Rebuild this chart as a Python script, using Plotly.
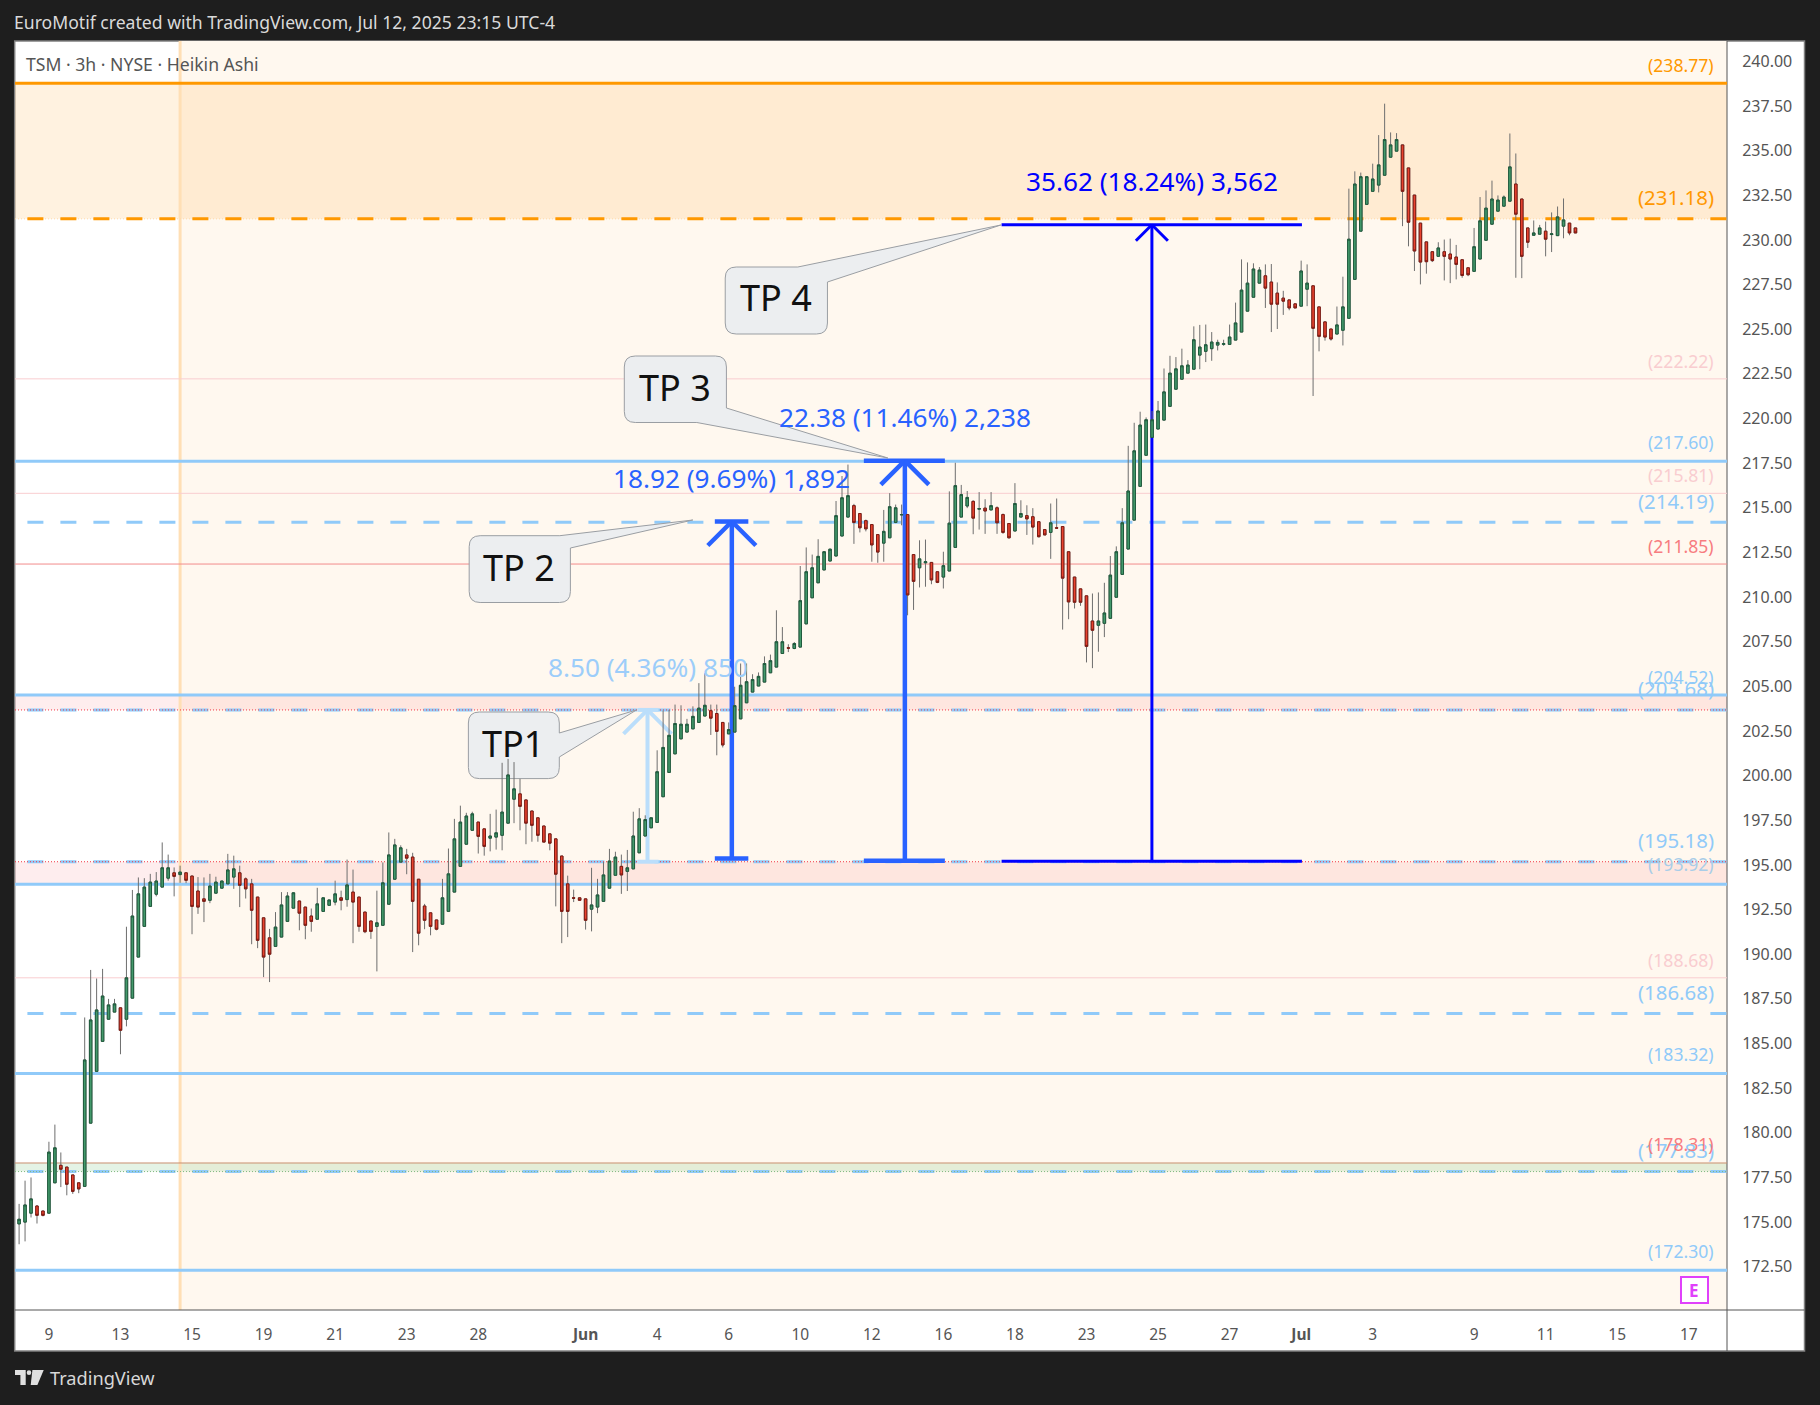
import plotly.graph_objects as go

opens = [174.90,175.00,175.50,175.90,175.62,175.50,177.20,178.18,178.08,177.64,
177.20,177.00,180.54,183.44,185.12,186.36,186.76,187.00,186.36,187.54,
189.84,191.56,192.68,193.36,193.76,194.26,194.56,194.46,194.56,194.38,
193.54,193.10,193.02,193.42,193.70,193.94,194.32,194.56,194.22,193.94,
193.20,192.04,190.92,190.44,190.96,191.84,192.58,192.98,192.64,192.14,
191.96,192.40,192.74,192.92,193.16,193.06,193.48,193.20,192.36,191.86,
191.56,191.62,192.80,194.20,195.16,195.56,195.44,194.20,192.70,192.32,
191.92,191.68,192.40,193.48,194.92,196.16,196.94,197.40,197.02,196.50,
196.56,196.66,197.34,198.68,198.98,198.64,198.02,197.64,197.18,196.74,
196.46,195.50,193.94,193.16,193.16,193.10,192.52,192.64,192.96,193.70,
194.42,194.92,194.64,194.78,195.68,196.62,197.08,197.38,198.82,200.18,
201.22,202.06,202.44,202.62,202.98,203.34,203.64,203.48,202.98,202.34,
202.44,203.18,204.08,204.68,205.02,205.24,205.76,206.08,206.84,207.16,
207.12,207.20,208.50,209.96,210.80,211.52,212.02,212.30,213.42,214.48,
215.12,214.68,214.28,214.06,213.50,213.02,213.32,214.18,214.60,214.62,
212.38,211.64,211.92,211.94,211.42,211.12,211.46,212.78,214.48,215.10,
215.36,214.92,214.98,214.88,215.00,214.62,214.12,213.70,214.48,214.56,
214.50,214.22,213.78,213.62,213.88,213.95,212.54,211.12,210.46,210.07,
208.66,208.42,208.53,208.81,209.99,211.27,212.69,214.31,216.20,217.94,
218.94,219.41,219.91,220.68,221.64,222.20,222.54,222.76,223.55,223.76,
223.91,224.11,224.15,224.15,224.39,224.84,226.01,226.79,227.58,227.99,
227.64,227.02,226.74,226.64,226.42,226.29,227.24,227.43,226.25,225.41,
225.01,224.73,224.94,225.61,227.79,230.49,231.99,232.72,233.07,233.62,
234.63,234.97,235.32,234.03,232.51,230.94,229.89,229.34,229.08,229.34,
229.21,229.04,228.89,228.44,228.24,228.93,229.98,230.88,231.61,231.89,
232.17,233.13,232.29,230.67,230.26,230.32,230.49,230.30,230.24,230.77,
230.94,230.67]

closes = [175.16,175.96,176.30,175.38,175.38,178.92,179.16,177.96,177.12,176.72,
176.86,184.08,186.32,186.88,187.66,187.16,187.22,185.74,188.68,192.14,
193.38,193.76,194.04,194.10,194.84,194.84,194.36,194.60,194.14,192.68,
192.64,192.96,193.82,194.04,194.10,194.72,194.78,193.86,193.66,192.46,
190.78,189.84,190.00,191.52,192.76,193.26,193.44,192.30,191.62,191.84,
192.82,193.16,193.04,193.38,193.02,193.88,192.92,191.56,191.26,191.28,
191.76,194.00,195.56,196.12,195.96,195.38,192.96,191.18,191.90,191.56,
191.40,193.16,194.50,196.46,197.40,197.74,197.86,196.60,196.04,196.62,
196.80,197.96,200.04,199.26,198.28,197.34,197.22,196.66,196.28,196.22,
194.48,192.40,192.40,193.14,193.02,191.90,192.76,193.32,194.44,195.22,
195.44,194.44,194.84,196.62,197.58,197.54,197.64,200.22,201.58,202.26,
202.92,202.88,202.88,203.32,203.78,203.94,203.22,202.48,201.72,202.58,
203.92,205.06,205.26,205.38,205.56,206.28,206.44,207.50,207.50,207.14,
207.40,209.80,211.42,211.64,212.28,212.54,212.68,214.56,215.56,215.68,
214.18,213.88,213.82,212.92,212.52,213.68,215.06,215.00,214.62,210.12,
210.88,212.14,211.98,210.96,210.82,211.76,214.14,216.24,215.74,215.58,
214.42,214.96,214.82,215.12,214.16,213.62,213.32,215.24,214.68,214.38,
213.92,213.38,213.48,214.16,213.86,211.06,209.73,209.71,209.71,207.24,
208.14,208.66,209.11,211.23,212.54,214.16,215.94,218.19,219.63,219.93,
219.93,220.42,221.49,222.54,222.78,222.95,222.99,224.41,224.00,224.13,
224.28,224.26,224.19,224.56,225.35,227.19,227.58,228.37,228.31,227.30,
226.40,226.40,226.57,226.19,226.19,228.26,227.58,225.05,224.60,224.56,
224.45,225.24,226.25,230.04,233.13,233.54,233.54,233.41,234.20,235.62,
235.32,235.62,232.72,230.99,229.38,228.76,228.78,228.84,229.55,229.08,
228.93,228.63,228.01,228.05,229.62,231.07,231.78,232.29,232.23,232.40,
234.09,231.44,229.08,229.87,230.39,230.67,230.04,230.34,231.29,231.12,
230.39,230.39]

highs = [176.02,177.32,177.50,175.95,175.62,179.50,180.46,178.90,178.08,177.64,
177.20,186.46,189.12,188.64,189.18,187.50,187.50,187.00,191.54,193.60,
194.30,194.26,194.50,194.60,196.26,195.58,194.86,194.96,194.56,194.38,
194.32,194.30,194.50,194.34,194.10,195.62,195.52,194.96,194.30,194.22,
193.20,192.04,191.42,192.36,193.48,193.48,193.48,192.98,192.64,192.56,
193.72,193.16,193.04,194.12,193.56,195.30,194.74,193.20,192.36,191.86,
193.56,195.14,196.82,196.46,196.10,195.90,195.68,194.20,192.82,192.32,
191.92,194.22,195.92,197.58,198.32,197.92,197.98,197.40,197.02,197.86,
198.10,200.72,200.94,200.76,199.82,198.64,198.02,197.64,197.18,196.74,
196.46,195.50,194.40,193.62,193.16,193.10,194.84,194.22,195.16,195.90,
195.74,195.58,195.84,197.98,198.18,197.78,197.64,201.42,203.64,203.68,
203.98,203.94,203.18,203.88,205.18,205.74,203.98,203.98,202.98,202.98,
204.98,206.28,206.28,205.68,205.78,206.68,206.78,209.26,208.32,207.36,
207.48,211.74,212.78,212.38,213.24,212.58,212.72,215.38,216.78,217.42,
215.22,214.68,214.34,214.06,213.50,214.88,215.82,215.18,215.18,214.64,
212.38,213.18,213.22,211.94,211.42,212.54,215.92,217.52,216.28,215.94,
215.42,215.88,215.48,215.88,215.08,214.68,214.12,216.38,215.42,215.14,
214.98,214.22,213.78,215.24,215.52,213.95,212.54,211.12,210.46,210.07,
210.20,210.26,210.80,212.30,212.84,214.98,218.47,219.76,220.38,220.06,
220.42,220.98,222.80,223.51,223.44,223.91,223.27,225.16,225.24,225.26,
224.84,224.41,224.41,225.26,226.49,228.91,228.74,228.69,228.48,228.63,
228.65,227.62,227.15,226.64,226.42,228.84,228.63,227.43,226.25,225.41,
225.01,226.27,227.94,232.87,233.84,233.77,233.54,234.27,235.87,237.63,
236.02,235.98,235.32,234.03,232.51,230.94,229.89,229.34,229.87,230.02,
230.07,229.72,228.89,228.44,230.67,232.40,232.77,233.32,232.49,232.49,
235.96,234.84,232.29,230.67,231.09,230.84,231.03,231.54,231.87,232.32,
230.94,230.67]

lows = [173.76,173.92,175.26,174.92,175.32,175.50,177.20,176.96,176.50,176.58,
176.62,177.00,180.54,183.44,185.12,186.36,186.76,184.40,185.96,187.54,
189.84,191.56,192.68,193.24,193.76,194.12,193.24,194.00,193.98,191.12,
192.26,191.80,192.86,193.42,193.70,193.94,193.66,192.64,193.12,190.56,
190.34,188.72,188.44,190.44,190.96,191.84,192.58,191.34,190.84,191.26,
191.96,192.40,192.74,192.74,192.46,192.66,190.62,191.26,191.18,190.86,
189.04,191.62,192.80,194.20,195.16,194.48,190.12,190.50,191.40,191.06,
191.34,191.68,192.40,193.48,194.92,196.16,196.94,195.64,195.52,195.76,
195.86,195.82,197.34,197.34,196.94,196.16,196.30,196.30,196.28,195.82,
192.68,190.62,190.96,192.92,193.02,191.38,191.28,192.30,192.96,193.70,
194.42,193.38,193.54,194.78,195.68,196.62,197.08,197.38,198.82,200.18,
201.22,202.06,202.44,202.62,202.98,203.34,202.28,201.14,201.58,202.34,
202.44,203.18,204.08,204.68,205.02,205.24,205.76,206.08,206.84,206.92,
207.08,207.20,208.50,209.96,210.80,211.52,212.02,212.30,213.42,214.48,
212.98,213.62,213.68,211.98,211.92,211.98,213.32,214.14,214.02,208.98,
209.28,210.54,210.58,210.72,210.78,210.48,211.46,212.78,214.48,214.98,
213.52,213.78,213.54,214.88,213.54,213.54,213.28,213.70,214.48,213.48,
212.94,213.34,213.48,212.14,213.86,208.18,208.76,209.36,209.51,206.34,
206.02,206.94,207.76,208.81,209.99,211.27,212.69,214.31,216.20,217.94,
218.94,219.41,219.91,220.68,221.64,222.20,222.54,222.76,222.76,223.16,
223.23,223.81,224.07,224.15,224.39,224.84,226.01,226.79,227.58,226.19,
224.84,225.01,225.80,226.06,226.19,226.29,226.29,221.26,223.76,224.36,
224.36,224.73,224.09,225.61,227.79,230.49,231.99,232.72,232.66,233.62,
234.63,234.97,230.77,229.64,228.26,227.51,228.11,228.76,229.08,227.73,
227.58,227.79,227.88,227.97,228.24,228.93,229.98,230.88,231.61,231.89,
232.17,227.88,227.86,229.55,230.26,230.32,229.08,229.32,230.24,230.09,
230.26,230.39]

tick_positions = [5,17,29,41,53,65,77,95,107,119,131,143,155,167,179,191,203,215,227,244,256,268,280]
tick_labels = ["9","13","15","19","21","23","28","<b>Jun</b>","4","6","10","12","16","18","23","25","27","<b>Jul</b>","3","9","11","15","17"]
price_ticks = [172.5+2.5*i for i in range(28)]

orange_solid = 238.77
orange_dash = 231.18
blue_solid = [217.60, 204.52, 193.92, 183.32, 172.30]
blue_dash = [214.19, 203.68, 195.18, 186.68, 177.83]
pink_thin = [222.22, 215.81, 188.68]

def yy(p): return 83.3+(238.77-p)*17.858
L, R, T, B = 15.3, 1727.0, 41.0, 1310.0
X = lambda px: (px-L)/(R-L)
Y = lambda py: (B-py)/(B-T)
IDX = lambda px: (px-19.4)/5.962
PRC = lambda py: 238.77-(py-83.3)/17.858
xmin, xmax = IDX(L), IDX(R)
ymax = PRC(T)
ymin = PRC(B)

shapes = []
def S(**k):
    k.setdefault("layer","below")
    shapes.append(k)
def rect_px(x0,y0,x1,y1,fill,line=None,lw=1):
    S(type="rect",xref="paper",yref="paper",x0=X(x0),x1=X(x1),y0=Y(y1),y1=Y(y0),fillcolor=fill,
      line=dict(color=line or fill,width=lw if line else 0))
def seg_paper(x0,y0,x1,y1,color,w):
    S(type="line",xref="paper",yref="paper",x0=X(x0),x1=X(x1),y0=Y(y0),y1=Y(y1),line=dict(color=color,width=w))
def seg(x0,y0,x1,y1,color,w):
    S(type="line",xref="x",yref="y",x0=IDX(x0),x1=IDX(x1),y0=PRC(y0),y1=PRC(y1),line=dict(color=color,width=w))

rect_px(15,41,1804.5,1351,"#ffffff","#808080",1.5)
S(type="rect",xref="x",yref="paper",x0=27,x1=xmax,y0=0,y1=1,fillcolor="#FFF8EF",line=dict(width=0))
def band(p0,p1,color):
    S(type="rect",xref="paper",yref="y",x0=0,x1=1,y0=p0,y1=p1,fillcolor=color,line=dict(width=0))
band(orange_dash,orange_solid,"rgba(255,152,0,0.12)")
band(203.68,204.52,"rgba(242,54,69,0.09)")
band(193.92,195.18,"rgba(242,54,69,0.09)")
band(177.83,178.31,"rgba(76,175,80,0.15)")
S(type="line",xref="x",yref="paper",x0=27,x1=27,y0=0,y1=1,line=dict(color="#FFDFB5",width=3))
def hline(p,color,w,dash="solid",x0=None):
    S(type="line",xref="x",yref="y",x0=xmin if x0 is None else x0,x1=xmax,y0=p,y1=p,line=dict(color=color,width=w,dash=dash))
for p in pink_thin: hline(p,"#F9CDD0",1)
hline(211.85,"#F28B8B",1)
hline(178.31,"#C98F70",1)
hline(orange_solid,"#FF9800",3)
hline(orange_dash,"#FFD9A8",1,"1px,2px")
hline(orange_dash,"#FF9800",3,"16px,17px",IDX(27.7))
for p in blue_solid: hline(p,"#90CAF9",3)
for p in blue_dash: hline(p,"#90CAF9",3,"16px,17px",IDX(27.7))
hline(203.68,"#F23645",1,"1px,2px")
hline(195.18,"#F23645",1,"1px,2px")
hline(177.83,"#7FB77E",1,"1px,2px")

def measure(xc,y_base,y_top,bx0,bx1,tx0,tx1,head,color,w):
    seg(xc,y_base,xc,y_top,color,w)
    seg(bx0,y_base,bx1,y_base,color,w)
    seg(tx0,y_top,tx1,y_top,color,w)
    seg(xc,y_top,xc-head,y_top+head,color,w)
    seg(xc,y_top,xc+head,y_top+head,color,w)
measure(647.7,yy(195.18),yy(203.68),637.8,658.8,637.8,658.8,24,"#BBDEFB",4)
measure(732,858.5,521.5,715,748.5,715,748.5,24,"#2962FF",4.5)
measure(905,860.7,460.7,864,945,864,945,24,"#2962FF",4.5)
measure(1152,861.3,224.7,1001.7,1302,1001.7,1302,16,"#0000FF",3)

def bubble(x0,y0,x1,y1,tail,r=11):
    kind,p1,tip,p2 = tail
    f = lambda a,b: f"{IDX(a):.4f},{PRC(b):.4f}"
    if kind=="right":
        d = f"M{f(x0+r,y0)} L{f(x1-r,y0)} Q{f(x1,y0)} {f(x1,y0+r)} L{f(*p1)} L{f(*tip)} L{f(*p2)} L{f(x1,y1-r)} Q{f(x1,y1)} {f(x1-r,y1)} L{f(x0+r,y1)} Q{f(x0,y1)} {f(x0,y1-r)} L{f(x0,y0+r)} Q{f(x0,y0)} {f(x0+r,y0)} Z"
    elif kind=="topright":
        d = f"M{f(x0+r,y0)} L{f(*p1)} L{f(*tip)} L{f(*p2)} L{f(x1,y1-r)} Q{f(x1,y1)} {f(x1-r,y1)} L{f(x0+r,y1)} Q{f(x0,y1)} {f(x0,y1-r)} L{f(x0,y0+r)} Q{f(x0,y0)} {f(x0+r,y0)} Z"
    else:
        d = f"M{f(x0+r,y0)} L{f(x1-r,y0)} Q{f(x1,y0)} {f(x1,y0+r)} L{f(*p1)} L{f(*tip)} L{f(*p2)} L{f(x0+r,y1)} Q{f(x0,y1)} {f(x0,y1-r)} L{f(x0,y0+r)} Q{f(x0,y0)} {f(x0+r,y0)} Z"
    S(type="path",xref="x",yref="y",path=d,fillcolor="#ECEEF0",line=dict(color="#9A9EA3",width=1))
bubble(468.6,712,559.5,778.6,("right",(559.5,733),(636.6,710),(559.5,757)))
bubble(469.4,535.7,570.6,602.5,("topright",(560,535.7),(693,520),(570.6,548)))
bubble(624.5,356,726.6,422.5,("bottomright",(726.6,408),(888,458),(697,422.5)))
bubble(725.4,267,827.6,334,("topright",(798,267),(1001,225),(827.6,282)))

seg_paper(15,B,1804.5,B,"#555555",1)
seg_paper(R,41,R,1351,"#555555",1)
S(type="rect",xref="x",yref="y",x0=IDX(1681),x1=IDX(1708),y0=PRC(1303),y1=PRC(1277),fillcolor="#ffffff",line=dict(color="#E040FB",width=2))

lp = lambda pts: "M"+" L".join(f"{X(a):.6f},{Y(b):.6f}" for a,b in pts)+" Z"
logo = "#E0E0E0"
S(type="path",xref="paper",yref="paper",path=lp([(15.3,1370),(26,1370),(26,1385),(20.7,1385),(20.7,1375),(15.3,1375)]),fillcolor=logo,line=dict(width=0))
S(type="path",xref="paper",yref="paper",path=lp([(32.7,1370),(44,1370),(37.7,1385),(31,1385)]),fillcolor=logo,line=dict(width=0))
S(type="circle",xref="paper",yref="paper",x0=X(27),x1=X(31.6),y0=Y(1375),y1=Y(1370.3),fillcolor=logo,line=dict(width=0))

FONT = "Noto Sans"
ann = []
def txt(s,x,y,size,color,anchor="center"):
    ann.append(dict(text=s,xref="paper",yref="paper",x=X(x),y=Y(y),xanchor=anchor,yanchor="middle",showarrow=False,
                    font=dict(family=FONT,size=size,color=color),borderpad=0,borderwidth=0))
txt("EuroMotif created with TradingView.com, Jul 12, 2025 23:15 UTC-4",14,22,17.6,"#DADADA","left")
txt("TSM · 3h · NYSE · Heikin Ashi",26,64,17.6,"#555555","left")
txt("TradingView",50,1378,18.2,"#D8D8D8","left")
txt("<b>E</b>",1694.5,1290,17,"#E040FB")
OR,BL,PK,RD="#FF9800","#90CAF9","#F9CDD0","#F77C80"
S1, S2 = 17.6, 20.4
for s,y,size,c in [("(238.77)",65,S1,OR),("(231.18)",197,S2,OR),("(222.22)",361,S1,PK),("(217.60)",442,S1,BL),
                   ("(215.81)",475,S1,PK),("(214.19)",501,S2,BL),("(211.85)",545.5,S1,RD),("(204.52)",677,S1,BL),
                   ("(203.68)",688,S2,BL),("(195.18)",840,S2,BL),("(193.92)",864,S1,"#A9CDE8"),("(188.68)",960,S1,PK),
                   ("(186.68)",992,S2,BL),("(183.32)",1054,S1,BL),("(177.83)",1149.5,S2,BL),("(178.31)",1144,S1,RD),("(172.30)",1251,S1,BL)]:
    txt(s,1714.5,y,size,c,"right")
txt("8.50 (4.36%) 850",648,666.5,26.2,"#9CCDFA")
txt("18.92 (9.69%) 1,892",731.5,477.5,26.2,"#2962FF")
txt("22.38 (11.46%) 2,238",905,416.5,26.2,"#2962FF")
txt("35.62 (18.24%) 3,562",1152,180.5,26.2,"#0000FF")
txt("TP1",513,743,36,"#111111")
txt("TP 2",519,567,36,"#111111")
txt("TP 3",675.5,388,36,"#111111")
txt("TP 4",776.5,298,36,"#111111")

n = range(len(opens))
body_hi = [max(a,b) for a,b in zip(opens,closes)]
body_lo = [min(a,b) for a,b in zip(opens,closes)]
fig = go.Figure()
fig.add_trace(go.Candlestick(x=list(n),open=opens,high=highs,low=lows,close=closes,whiskerwidth=0,hoverinfo="skip",showlegend=False,
    increasing=dict(line=dict(color="#6E6E6E",width=1),fillcolor="rgba(0,0,0,0)"),
    decreasing=dict(line=dict(color="#6E6E6E",width=1),fillcolor="rgba(0,0,0,0)")))
fig.add_trace(go.Candlestick(x=list(n),open=opens,high=body_hi,low=body_lo,close=closes,whiskerwidth=0,hoverinfo="skip",showlegend=False,
    increasing=dict(line=dict(color="#1F5B3D",width=1),fillcolor="#43996B"),
    decreasing=dict(line=dict(color="#7E1A12",width=1),fillcolor="#E8432F")))
fig.update_layout(
    width=1820,height=1405,autosize=False,
    margin=dict(l=L,r=1820-R,t=T,b=1405-B,pad=0),
    paper_bgcolor="#1E1E1E",plot_bgcolor="#ffffff",
    showlegend=False,shapes=shapes,annotations=ann,boxgap=0.4,
    font=dict(family=FONT,color="#555555"),
    xaxis=dict(type="linear",range=[xmin,xmax],rangeslider=dict(visible=False),showgrid=False,zeroline=False,showline=False,
               tickmode="array",tickvals=tick_positions,ticktext=tick_labels,ticks="outside",ticklen=10,tickcolor="rgba(0,0,0,0)",
               tickfont=dict(family=FONT,size=15.5,color="#555555")),
    yaxis=dict(side="right",range=[ymin,ymax],showgrid=False,zeroline=False,showline=False,
               tickmode="array",tickvals=price_ticks,ticktext=[f"{v:.2f}" for v in price_ticks],ticks="outside",ticklen=11,
               tickcolor="rgba(0,0,0,0)",tickfont=dict(family=FONT,size=16,color="#555555")),
)
fig.write_html("out.html",config={"displayModeBar":False},post_script="document.body.style.margin='0';document.body.style.overflow='hidden';")
